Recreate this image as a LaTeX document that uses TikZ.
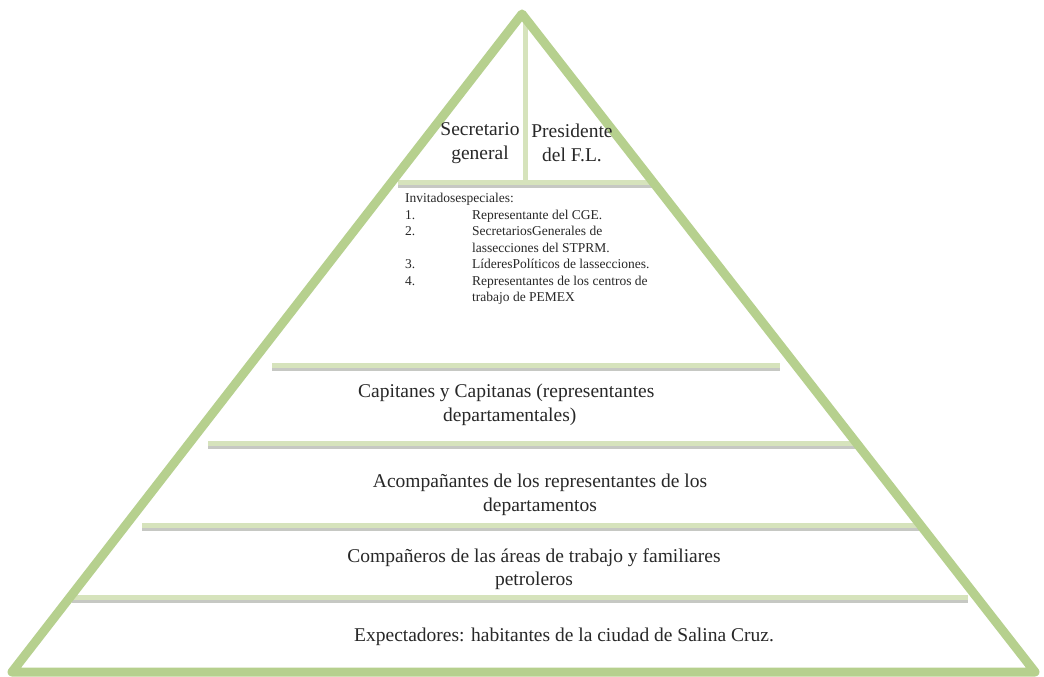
\documentclass[tikz,border=0pt]{standalone}
\usepackage{fontspec}
\setmainfont{Liberation Serif}
\definecolor{trigreen}{RGB}{182,208,142}
\definecolor{bargreen}{RGB}{214,227,188}
\definecolor{barshadow}{RGB}{175,178,170}
\definecolor{txt}{RGB}{40,40,40}
\tikzset{
  frame/.style={draw=trigreen, line width=9pt, line join=round},
  divider/.style={draw=bargreen, line width=5pt},
  dshadow/.style={draw=barshadow, line width=3pt, opacity=0.7},
  lvl/.style={text=txt, font=\fontsize{19.5}{23.5}\selectfont, inner sep=0pt, align=center},
  small/.style={text=txt, font=\fontsize{13.5}{16.5}\selectfont, inner sep=0pt, align=left},
}
\newcommand{\itm}[2]{\makebox[67pt][l]{#1}#2}
\begin{document}
\begin{tikzpicture}[x=1pt,y=-1pt]
\useasboundingbox (0,0) rectangle (1044,677);
\fill[white] (0,0) rectangle (1044,677);
% corners of the pyramid
\coordinate (apex) at (522,14);
\coordinate (bl) at (12,672);
\coordinate (br) at (1035,672);
% divider end points
\coordinate (v1) at (525,18);  \coordinate (v2) at (525,182);
\coordinate (a1) at (398,182); \coordinate (a2) at (655,182);
\coordinate (b1) at (272,365); \coordinate (b2) at (780,365);
\coordinate (c1) at (208,443); \coordinate (c2) at (857,443);
\coordinate (d1) at (142,525); \coordinate (d2) at (925,525);
\coordinate (e1) at (72,597);  \coordinate (e2) at (968,597);
% shadows
\foreach \p/\q in {a1/a2,b1/b2,c1/c2,d1/d2,e1/e2}{
  \draw[dshadow] ([yshift=-4pt]\p) -- ([yshift=-4pt]\q);
}
\draw[divider] (v1) -- (v2);
\foreach \p/\q in {a1/a2,b1/b2,c1/c2,d1/d2,e1/e2}{
  \draw[divider] (\p) -- (\q);
}
\draw[frame] (apex) -- (br) -- (bl) -- cycle;
% texts
\node[lvl] (sec) at (480,143) {Secretario\\general};
\node[lvl] (pres) at (572,143) {Presidente\\del F.L.};
\node[small, anchor=north west] (inv) at (405,193) {Invitadosespeciales:\\
\itm{1.}{Representante del CGE.}\\
\itm{2.}{SecretariosGenerales de}\\
\itm{}{lassecciones del STPRM.}\\
\itm{3.}{LíderesPolíticos de lassecciones.}\\
\itm{4.}{Representantes de los centros de}\\
\itm{}{trabajo de PEMEX}};
\node[lvl, align=left, anchor=west] (cap) at (358,405) {Capitanes y Capitanas (representantes\\\hspace*{85pt}departamentales)};
\node[lvl] (aco) at (540,495) {Acompañantes de los representantes de los\\departamentos};
\node[lvl] (com) at (534,569) {Compañeros de las áreas de trabajo y familiares\\petroleros};
\node[lvl] (exp) at (564,637) {Expectadores: habitantes de la ciudad de Salina Cruz.};
\end{tikzpicture}
\end{document}
